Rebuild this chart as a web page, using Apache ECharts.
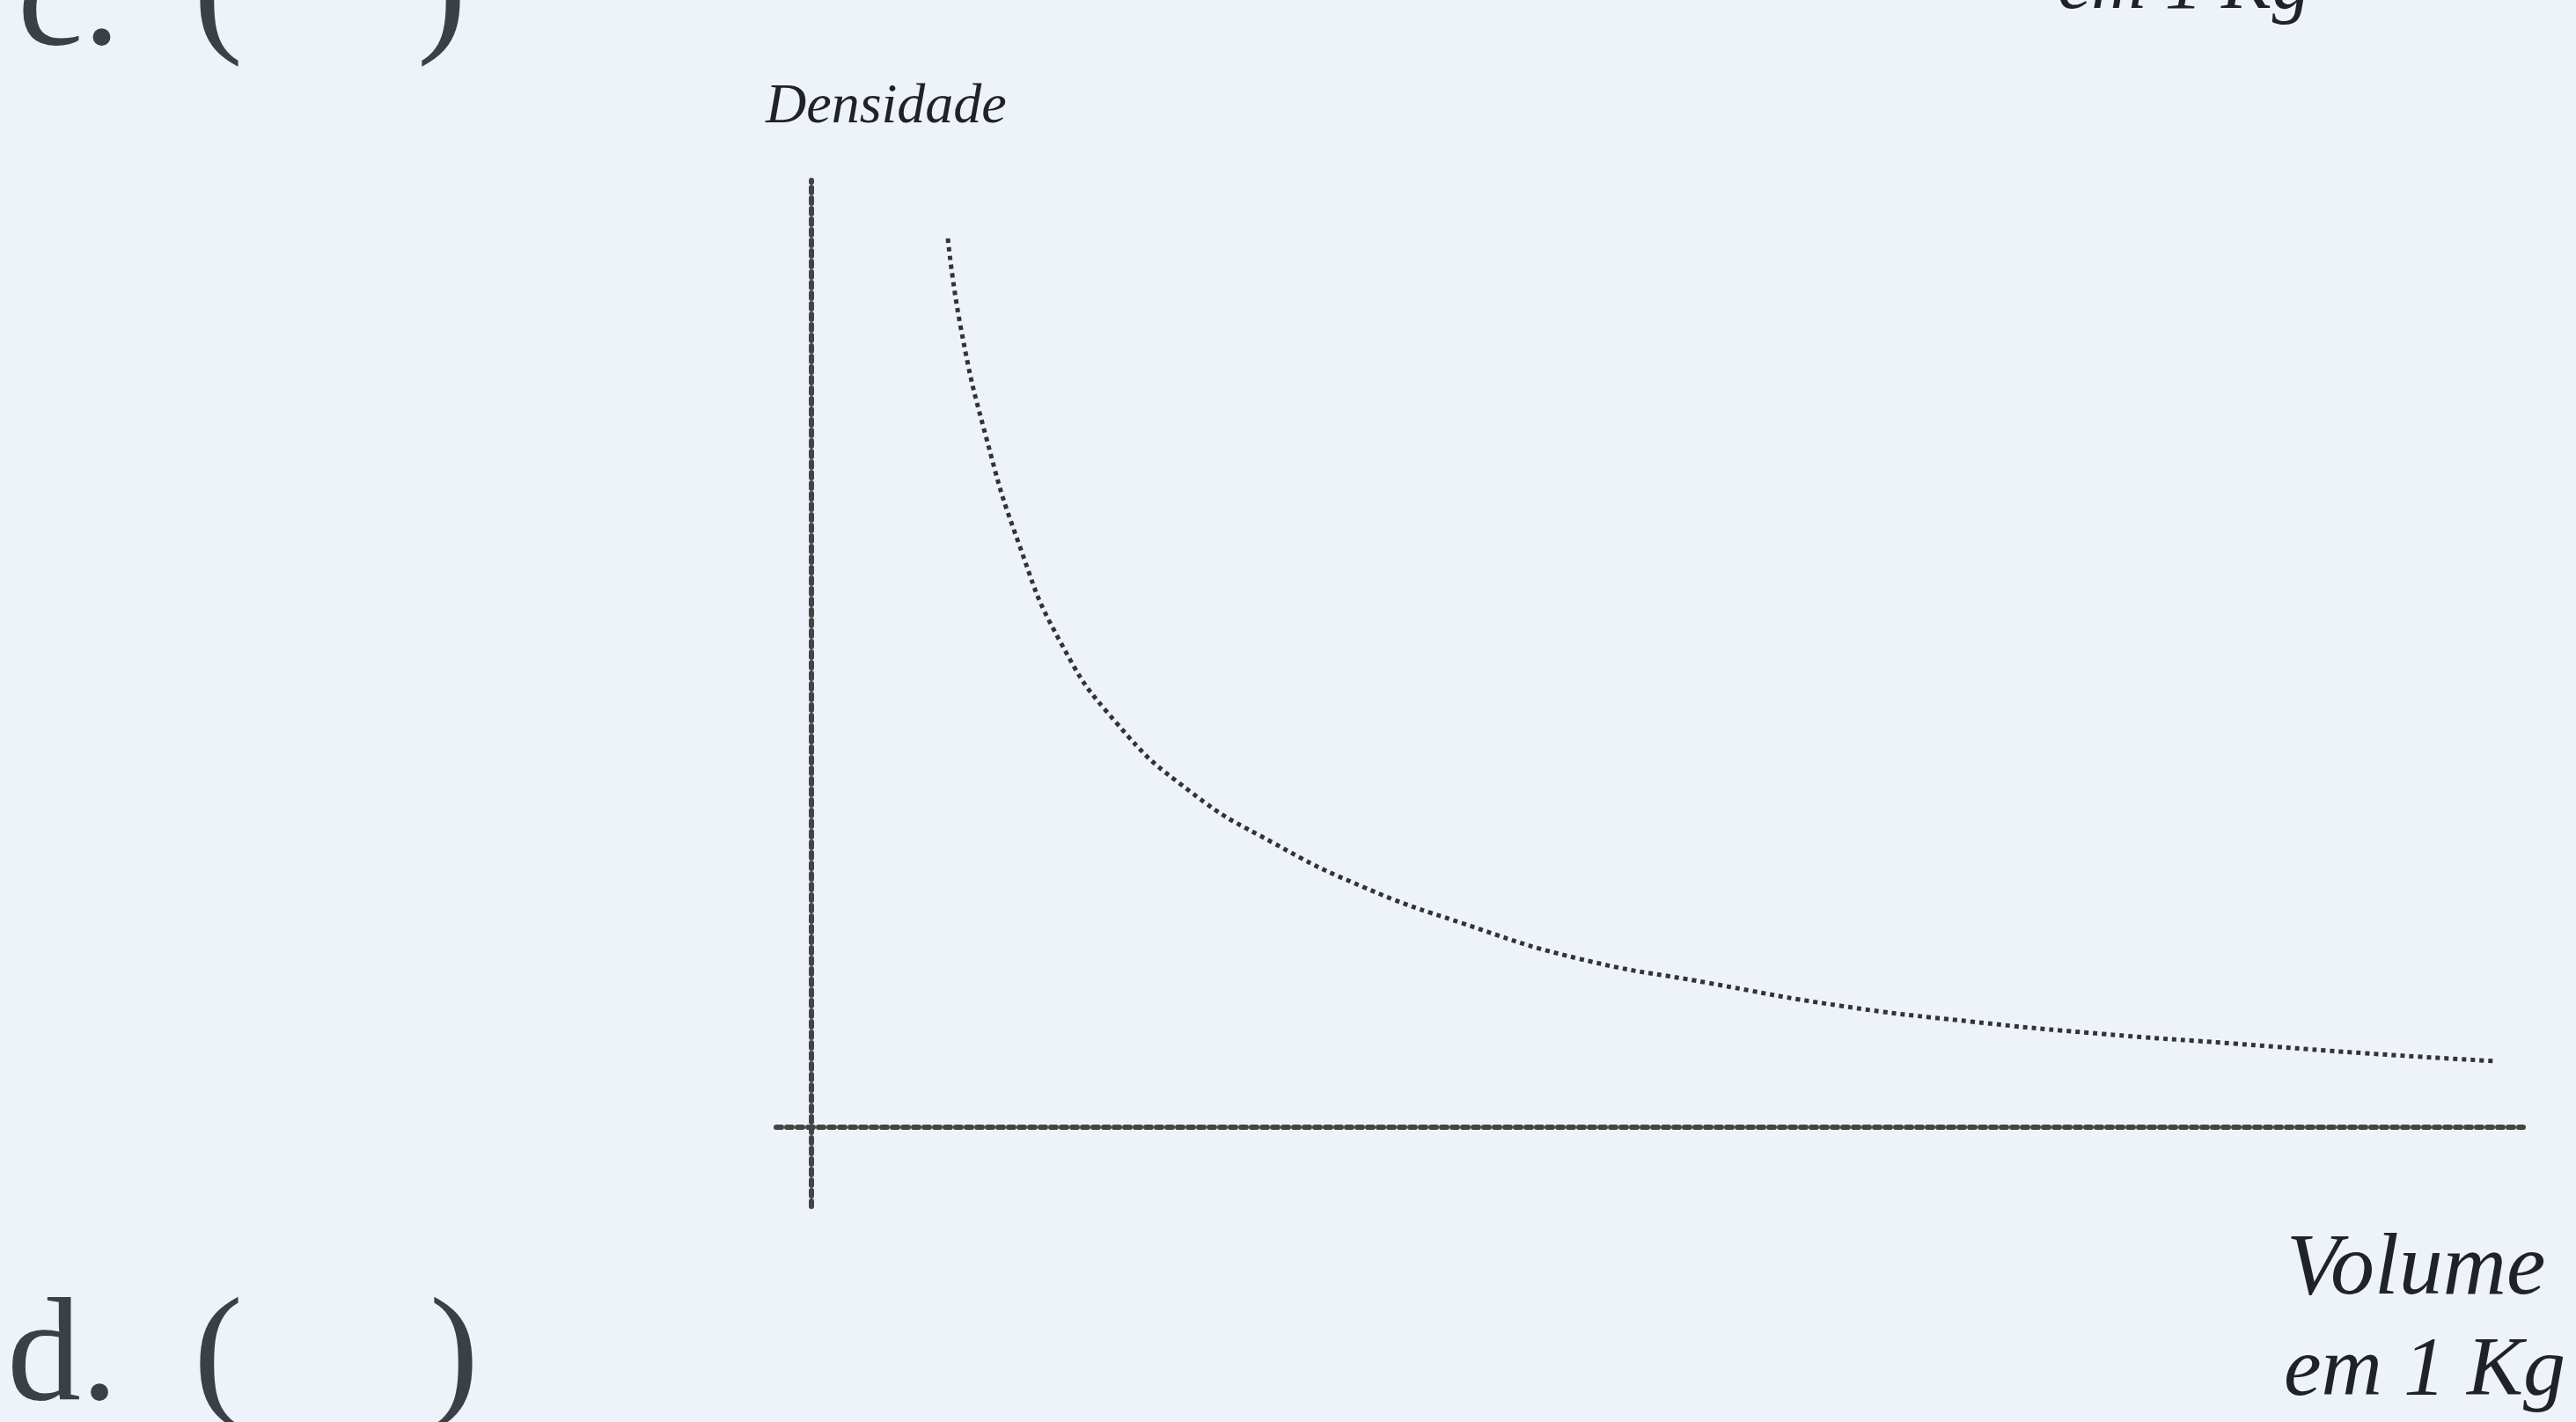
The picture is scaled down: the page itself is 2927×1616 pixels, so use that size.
<!DOCTYPE html>
<html><head><meta charset="utf-8">
<script src="https://cdn.jsdelivr.net/npm/echarts@6/dist/echarts.min.js"></script>
<style>html,body{margin:0;padding:0;background:#eef3fa;overflow:hidden}#c{width:2927px;height:1616px}</style>
</head><body><div id="c"></div>
<script>
// Curve (arbitrary units: volume vs density)
const volume  = [1.55, 1.70, 1.98, 2.35, 2.82, 3.47, 4.31, 5.25, 6.27, 7.39, 8.70, 10.19, 11.69, 13.18, 14.67, 16.17, 17.66, 19.15];
const density = [10.10, 9.07, 7.86, 6.65, 5.53, 4.59, 3.81, 3.23, 2.73, 2.32, 1.92, 1.64, 1.38, 1.20, 1.06, 0.95, 0.84, 0.75];
const xRange = [-0.4, 19.45];
const yRange = [-0.9, 10.76];
const yTitle = 'Densidade';
const xTitle = ['Volume', 'em 1 Kg'];
const topCutTitle = 'em 1 Kg';
const optionC = ['c.', '(', ')'];
const optionD = ['d.', '(', ')'];

const chart = echarts.init(document.getElementById('c'), null, {renderer: 'canvas'});
const ink = '#1f2227';
const serifInk = '#3b4046';
const axisStyle = {color: '#444', width: 6, type: 'dotted'};
function f(s){ return 'italic ' + s + 'px "Liberation Serif"'; }
const serif = '168px "Liberation Serif"';

chart.setOption({
  backgroundColor: '#eef3fa',
  animation: false,
  grid: {left: 882, top: 205, width: 1985, height: 1166, containLabel: false},
  xAxis: {
    type: 'value', min: xRange[0], max: xRange[1],
    axisLine: {onZero: true, lineStyle: axisStyle},
    axisTick: {show: false}, axisLabel: {show: false}, splitLine: {show: false}
  },
  yAxis: {
    type: 'value', min: yRange[0], max: yRange[1],
    axisLine: {onZero: true, lineStyle: axisStyle},
    axisTick: {show: false}, axisLabel: {show: false}, splitLine: {show: false}
  },
  series: [{
    type: 'line', smooth: true, symbol: 'none',
    data: volume.map((v, i) => [v, density[i]]),
    lineStyle: {color: '#333', width: 5, type: 'dotted'}
  }],
  graphic: [
    {type: 'text', left: 870, top: 90, style: {text: yTitle, font: f(64), fill: ink}},
    {type: 'text', left: 2598, top: 1394, style: {text: xTitle[0], font: f(100), fill: ink}},
    {type: 'text', left: 2595, top: 1512, style: {text: xTitle[1], font: f(96), fill: ink}},
    {type: 'text', left: 2338, top: -57, style: {text: topCutTitle, font: f(86), fill: ink}},
    {type: 'text', left: 20, top: -78, style: {text: optionC[0], font: serif, fill: serifInk}},
    {type: 'text', left: 220, top: -88, style: {text: optionC[1], font: serif, fill: serifInk}},
    {type: 'text', left: 474, top: -88, style: {text: optionC[2], font: serif, fill: serifInk}},
    {type: 'text', left: 8, top: 1462, style: {text: optionD[0], font: serif, fill: serifInk}},
    {type: 'text', left: 220, top: 1462, style: {text: optionD[1], font: serif, fill: serifInk}},
    {type: 'text', left: 488, top: 1462, style: {text: optionD[2], font: serif, fill: serifInk}}
  ]
});
</script>
</body></html>
